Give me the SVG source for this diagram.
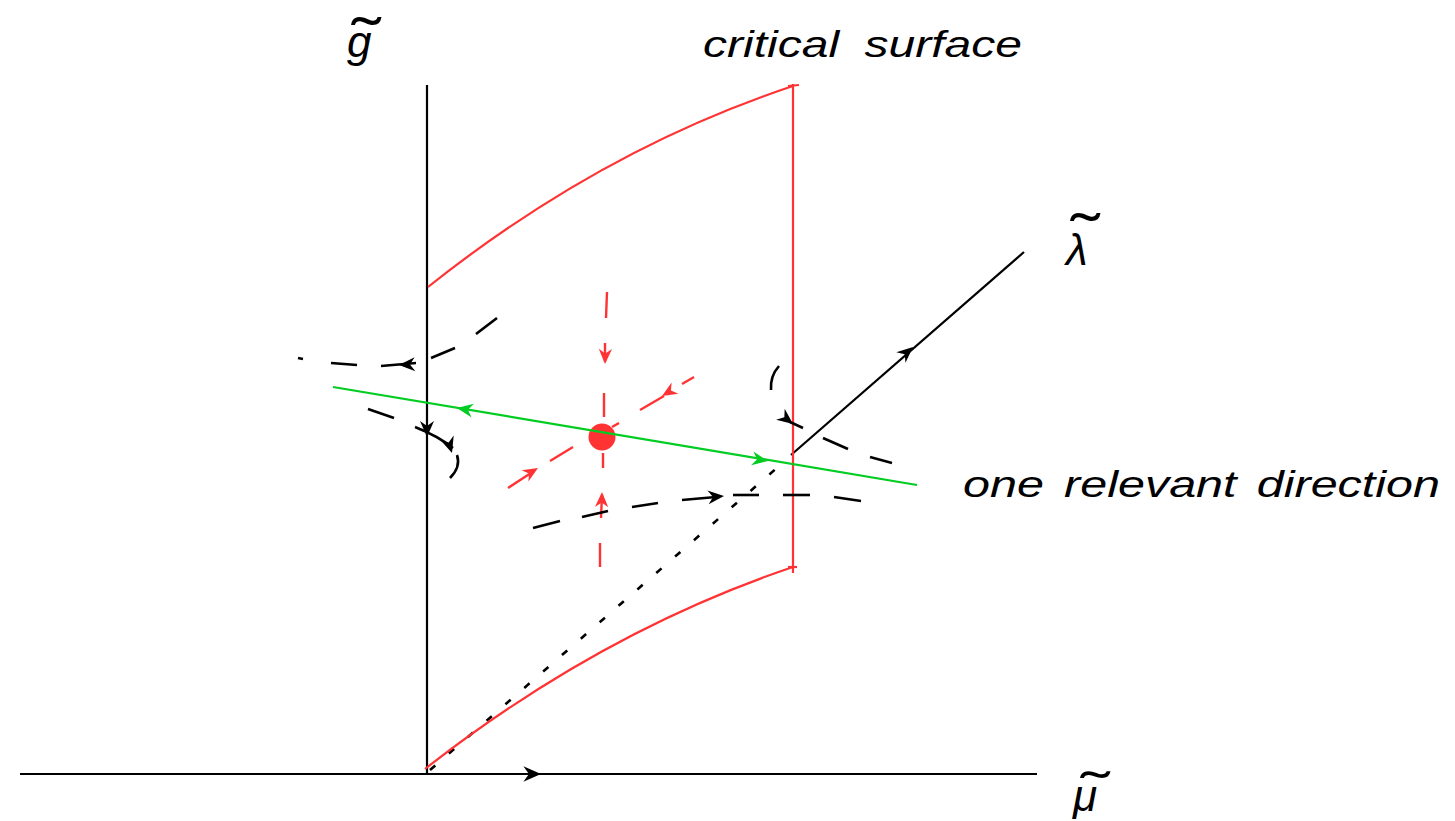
<svg xmlns="http://www.w3.org/2000/svg" width="1455" height="821" viewBox="0 0 1455 821">
<style>
.ax{stroke:#000;stroke-width:2.2;fill:none}
.red{stroke:#ff3333;stroke-width:2.2;fill:none}
.rdash{stroke:#ff3333;stroke-width:2.4;fill:none;stroke-linecap:butt}
.grn{stroke:#00cc22;stroke-width:2.2;fill:none}
.bd{stroke:#000;stroke-width:2.6;fill:none;stroke-linecap:butt}
.dot{stroke:#000;stroke-width:2.6;fill:none;stroke-dasharray:7 18}
.lbl{font-family:"Liberation Sans",Arial,sans-serif;font-style:italic;font-size:36px;fill:#000}
.math{font-family:"Liberation Sans",Arial,sans-serif;font-style:italic;font-size:44px;fill:#000}
.tld{font-style:normal;font-size:60px}
</style>
<defs>
<path id="ah" d="M0,0 L-16,-7 L-11,0 L-16,7 Z"/>
</defs>
<rect width="1455" height="821" fill="#fff"/>

<g id="connectors">
  <g id="axis-g"><line class="ax" x1="427" y1="85" x2="427" y2="774"/></g>
  <g id="axis-mu"><line class="ax" x1="20" y1="774" x2="1037" y2="774"/>
    <use href="#ah" fill="#000" transform="translate(541,774) scale(1.1)"/></g>
  <g id="axis-lambda"><line class="ax" x1="791" y1="455" x2="1024" y2="252"/>
    <use href="#ah" fill="#000" transform="translate(913,347) rotate(-40.9)"/></g>
  <line class="dot" x1="430" y1="770" x2="786" y2="460"/>

  <g id="critical-surface">
    <path class="red" d="M428,287 Q600,150 793,86"/>
    <path class="red" d="M425,769 Q600,632 793,567"/>
    <line class="red" x1="793" y1="84" x2="793" y2="573"/>
    <line class="red" x1="788" y1="86" x2="799" y2="85"/>
    <line class="red" x1="788" y1="567" x2="797" y2="567"/>
  </g>

  <g id="red-flows" fill="#ff3333">
    <line class="rdash" x1="607" y1="292" x2="606" y2="318"/>
    <line class="rdash" x1="605" y1="343" x2="605" y2="362"/>
    <use href="#ah" transform="translate(605,364) rotate(91.5) scale(0.95)"/>
    <line class="rdash" x1="604" y1="393" x2="604" y2="417"/>
    <line class="rdash" x1="603" y1="453" x2="603" y2="468"/>
    <line class="rdash" x1="602" y1="495" x2="601" y2="518"/>
    <use href="#ah" transform="translate(602,492) rotate(-88.5) scale(0.95)"/>
    <line class="rdash" x1="600" y1="543" x2="600" y2="567"/>

    <line class="rdash" x1="508" y1="488" x2="534" y2="471"/>
    <use href="#ah" transform="translate(538,468) rotate(-31) scale(0.95)"/>
    <line class="rdash" x1="550" y1="461" x2="573" y2="447"/>
    <line class="rdash" x1="612" y1="427" x2="619" y2="423"/>
    <line class="rdash" x1="640" y1="410" x2="664" y2="396"/>
    <use href="#ah" transform="translate(662,396) rotate(149) scale(0.95)"/>
    <line class="rdash" x1="682" y1="384" x2="694" y2="377"/>
  </g>

  <circle id="fixed-point" cx="602" cy="437" r="13.5" fill="#ff3333"/>

  <g id="relevant-direction" fill="#00cc22">
    <line class="grn" x1="333" y1="387" x2="917" y2="485"/>
    <use href="#ah" transform="translate(457,408) rotate(-170.5)"/>
    <use href="#ah" transform="translate(768,461) rotate(9.5)"/>
  </g>

  <g id="traj-a" fill="#000">
    <line class="bd" x1="298" y1="358" x2="303" y2="359"/>
    <line class="bd" x1="331" y1="363" x2="357" y2="365"/>
    <line class="bd" x1="381" y1="366" x2="416" y2="363"/>
    <use href="#ah" transform="translate(399,365) rotate(177)"/>
    <line class="bd" x1="431" y1="358" x2="455" y2="348"/>
    <line class="bd" x1="476" y1="334" x2="497" y2="318"/>
  </g>
  <g id="traj-b" fill="#000">
    <line class="bd" x1="368" y1="409" x2="394" y2="418"/>
    <path class="bd" d="M415,427 Q438,436 453,448"/>
    <use href="#ah" transform="translate(427,437) rotate(90)"/>
    <use href="#ah" transform="translate(452,453) rotate(72)"/>
    <path class="bd" d="M457,455 Q461,467 450,478"/>
  </g>
  <g id="traj-c" fill="#000">
    <path class="bd" d="M779,366 Q770,376 771,390"/>
    <use href="#ah" transform="translate(793,424) rotate(38)"/>
    <line class="bd" x1="790" y1="422" x2="803" y2="428"/>
    <line class="bd" x1="823" y1="438" x2="848" y2="449"/>
    <line class="bd" x1="870" y1="457" x2="892" y2="463"/>
  </g>
  <g id="traj-d" fill="#000">
    <line class="bd" x1="533" y1="528" x2="560" y2="521"/>
    <line class="bd" x1="582" y1="517" x2="608" y2="511"/>
    <line class="bd" x1="632" y1="507" x2="658" y2="503"/>
    <line class="bd" x1="682" y1="500" x2="716" y2="497"/>
    <use href="#ah" transform="translate(724,496) rotate(-5)"/>
    <line class="bd" x1="733" y1="495" x2="759" y2="495"/>
    <line class="bd" x1="783" y1="495" x2="810" y2="495"/>
    <line class="bd" x1="834" y1="497" x2="861" y2="501"/>
  </g>
</g>

<g id="label-g">
  <text class="math"><tspan class="tld" x="352" y="60" textLength="29" lengthAdjust="spacingAndGlyphs">˜</tspan><tspan x="347" y="57">g</tspan></text>
</g>
<g id="label-lambda">
  <text class="math"><tspan class="tld" x="1071" y="256" textLength="29" lengthAdjust="spacingAndGlyphs">˜</tspan><tspan x="1066" y="265">λ</tspan></text>
</g>
<g id="label-mu">
  <text class="math"><tspan class="tld" style="font-size:50px" x="1081" y="807" textLength="29" lengthAdjust="spacingAndGlyphs">˜</tspan><tspan x="1073" y="811">μ</tspan></text>
</g>
<g id="label-critical"><text class="lbl" x="703" y="57" word-spacing="9" textLength="319" lengthAdjust="spacingAndGlyphs">critical surface</text></g>
<g id="label-relevant"><text class="lbl" x="963" y="497" word-spacing="5" textLength="477" lengthAdjust="spacingAndGlyphs">one relevant direction</text></g>
</svg>
